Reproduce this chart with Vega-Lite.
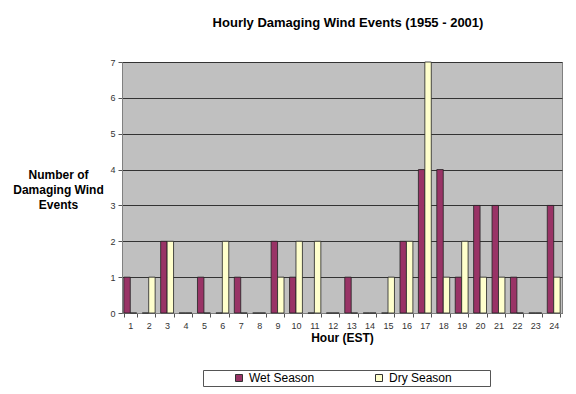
{
  "$schema": "https://vega.github.io/schema/vega-lite/v6.json",
  "autosize": {"type": "none"},
  "width": 440,
  "height": 251,
  "padding": {"left": 122, "top": 62, "right": 14, "bottom": 81},
  "background": "white",
  "config": {
    "font": "Liberation Sans",
    "view": {"fill": "#C0C0C0", "stroke": "#808080", "strokeWidth": 1}
  },
  "title": {
    "text": "Hourly Damaging Wind Events (1955 - 2001)",
    "fontSize": 13,
    "fontWeight": "bold",
    "color": "#000000",
    "anchor": "middle",
    "offset": 28,
    "dx": 6
  },
  "data": {
    "values": [
      {"hour": 1, "season": "Wet Season", "count": 1}, {"hour": 1, "season": "Dry Season", "count": 0},
      {"hour": 2, "season": "Wet Season", "count": 0}, {"hour": 2, "season": "Dry Season", "count": 1},
      {"hour": 3, "season": "Wet Season", "count": 2}, {"hour": 3, "season": "Dry Season", "count": 2},
      {"hour": 4, "season": "Wet Season", "count": 0}, {"hour": 4, "season": "Dry Season", "count": 0},
      {"hour": 5, "season": "Wet Season", "count": 1}, {"hour": 5, "season": "Dry Season", "count": 0},
      {"hour": 6, "season": "Wet Season", "count": 0}, {"hour": 6, "season": "Dry Season", "count": 2},
      {"hour": 7, "season": "Wet Season", "count": 1}, {"hour": 7, "season": "Dry Season", "count": 0},
      {"hour": 8, "season": "Wet Season", "count": 0}, {"hour": 8, "season": "Dry Season", "count": 0},
      {"hour": 9, "season": "Wet Season", "count": 2}, {"hour": 9, "season": "Dry Season", "count": 1},
      {"hour": 10, "season": "Wet Season", "count": 1}, {"hour": 10, "season": "Dry Season", "count": 2},
      {"hour": 11, "season": "Wet Season", "count": 0}, {"hour": 11, "season": "Dry Season", "count": 2},
      {"hour": 12, "season": "Wet Season", "count": 0}, {"hour": 12, "season": "Dry Season", "count": 0},
      {"hour": 13, "season": "Wet Season", "count": 1}, {"hour": 13, "season": "Dry Season", "count": 0},
      {"hour": 14, "season": "Wet Season", "count": 0}, {"hour": 14, "season": "Dry Season", "count": 0},
      {"hour": 15, "season": "Wet Season", "count": 0}, {"hour": 15, "season": "Dry Season", "count": 1},
      {"hour": 16, "season": "Wet Season", "count": 2}, {"hour": 16, "season": "Dry Season", "count": 2},
      {"hour": 17, "season": "Wet Season", "count": 4}, {"hour": 17, "season": "Dry Season", "count": 7},
      {"hour": 18, "season": "Wet Season", "count": 4}, {"hour": 18, "season": "Dry Season", "count": 1},
      {"hour": 19, "season": "Wet Season", "count": 1}, {"hour": 19, "season": "Dry Season", "count": 2},
      {"hour": 20, "season": "Wet Season", "count": 3}, {"hour": 20, "season": "Dry Season", "count": 1},
      {"hour": 21, "season": "Wet Season", "count": 3}, {"hour": 21, "season": "Dry Season", "count": 1},
      {"hour": 22, "season": "Wet Season", "count": 1}, {"hour": 22, "season": "Dry Season", "count": 0},
      {"hour": 23, "season": "Wet Season", "count": 0}, {"hour": 23, "season": "Dry Season", "count": 0},
      {"hour": 24, "season": "Wet Season", "count": 3}, {"hour": 24, "season": "Dry Season", "count": 1}
    ]
  },
  "mark": {"type": "bar", "stroke": "#222222", "strokeWidth": 0.8},
  "encoding": {
    "x": {
      "field": "hour",
      "type": "ordinal",
      "scale": {"paddingInner": 0.3, "paddingOuter": 0.1},
      "axis": {
        "title": "Hour (EST)",
        "titleFontSize": 12,
        "titleFontWeight": "bold",
        "titleColor": "#000000",
        "titlePadding": 2,
        "labelAngle": 0,
        "labelFontSize": 9,
        "labelColor": "#333333",
        "labelPadding": 4,
        "domainColor": "#808080",
        "tickColor": "#555555",
        "tickSize": 4,
        "tickBand": "extent",
        "grid": false
      }
    },
    "xOffset": {"field": "season", "type": "nominal", "sort": ["Wet Season", "Dry Season"]},
    "y": {
      "field": "count",
      "type": "quantitative",
      "scale": {"domain": [0, 7], "nice": false},
      "axis": {
        "values": [0, 1, 2, 3, 4, 5, 6, 7],
        "title": ["Number of", "Damaging Wind", "Events"],
        "titleAngle": 0,
        "titleAlign": "center",
        "titleBaseline": "middle",
        "titleX": -64,
        "titleY": 112,
        "titleFontSize": 12,
        "titleFontWeight": "bold",
        "titleColor": "#000000",
        "titleLineHeight": 15,
        "labelFontSize": 9,
        "labelColor": "#333333",
        "labelPadding": 3,
        "domainColor": "#808080",
        "tickColor": "#555555",
        "tickSize": 4,
        "grid": true,
        "gridColor": "#333333",
        "gridWidth": 1
      }
    },
    "color": {
      "field": "season",
      "type": "nominal",
      "scale": {"domain": ["Wet Season", "Dry Season"], "range": ["#993366", "#FFFFCC"]},
      "legend": {
        "title": null,
        "orient": "none",
        "direction": "horizontal",
        "legendX": 81,
        "legendY": 308,
        "columns": 2,
        "columnPadding": 30,
        "symbolType": "square",
        "symbolSize": 49,
        "symbolOffset": 28,
        "symbolStrokeColor": "#333333",
        "symbolStrokeWidth": 1,
        "labelFontSize": 12,
        "labelColor": "#000000",
        "labelOffset": 4,
        "labelExpr": "datum.label === 'Dry Season' ? datum.label + '\u2800\u2800\u2800\u2800' : datum.label",
        "labelLimit": 400,
        "strokeColor": "#555555",
        "fillColor": "white",
        "padding": 2,
        "offset": 0
      }
    }
  }
}
